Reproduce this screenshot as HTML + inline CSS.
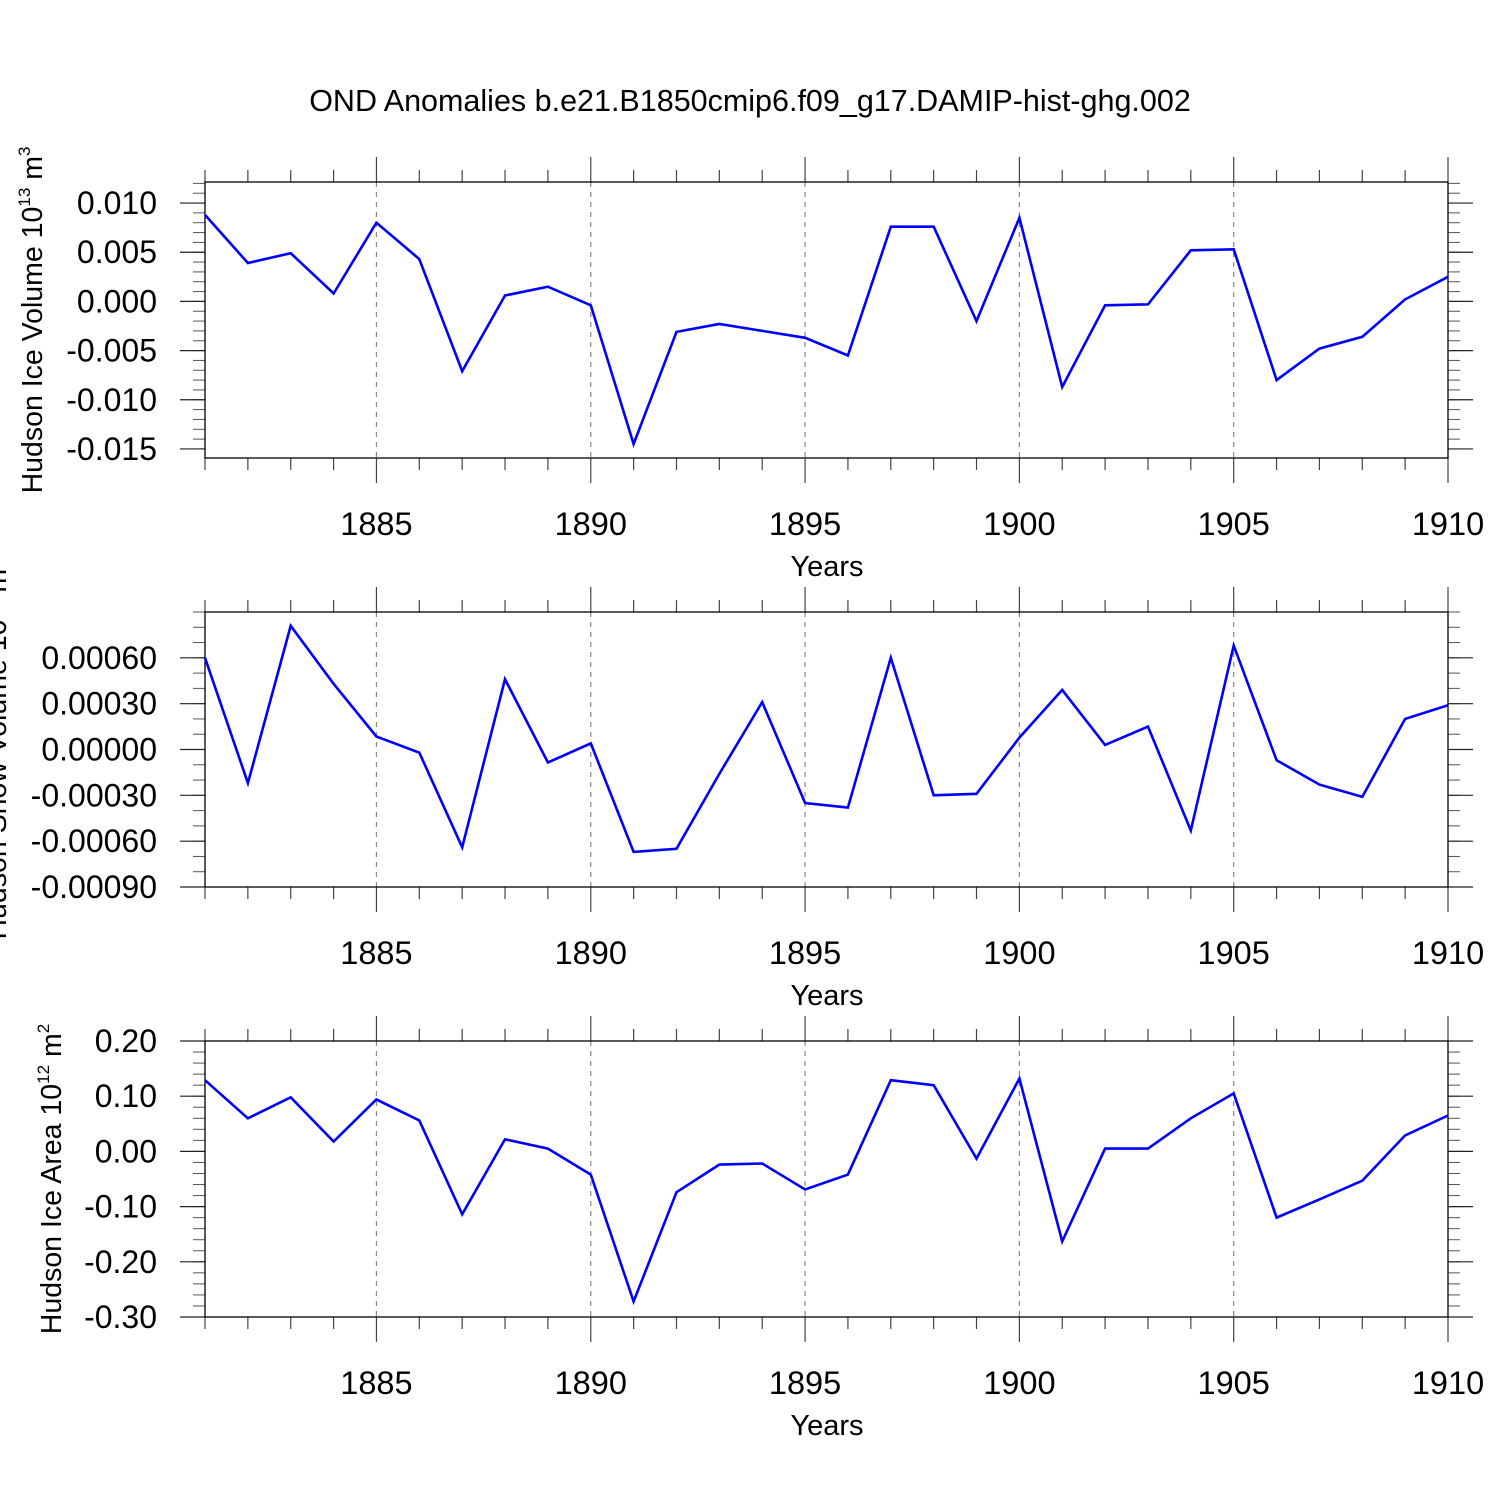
<!DOCTYPE html>
<html><head><meta charset="utf-8"><style>
html,body{margin:0;padding:0;background:#fff;}
svg text{font-family:"Liberation Sans",Arial,sans-serif;fill:#000;}
</style></head><body>
<svg id="chart" width="1500" height="1500" viewBox="0 0 1500 1500" xmlns="http://www.w3.org/2000/svg">
<text x="750" y="111" font-size="30.5" text-anchor="middle">OND Anomalies b.e21.B1850cmip6.f09_g17.DAMIP-hist-ghg.002</text>
</svg>
<script>
const years = [1881,1882,1883,1884,1885,1886,1887,1888,1889,1890,1891,1892,1893,1894,1895,1896,1897,1898,1899,1900,1901,1902,1903,1904,1905,1906,1907,1908,1909,1910];
const iceVolume = [0.0088,0.0039,0.0049,0.0008,0.0080,0.0043,-0.0071,0.0006,0.0015,-0.0004,-0.0145,-0.0031,-0.0023,-0.0030,-0.0037,-0.0055,0.0076,0.0076,-0.0020,0.0085,-0.0087,-0.0004,-0.0003,0.0052,0.0053,-0.0080,-0.0048,-0.0036,0.0002,0.0025];
const snowVolume = [0.00060,-0.00022,0.00081,0.00043,0.000085,-0.00002,-0.00064,0.00046,-0.000085,0.00004,-0.00067,-0.00065,-0.00016,0.00031,-0.00035,-0.00038,0.00060,-0.00030,-0.00029,0.000078,0.00039,0.00003,0.00015,-0.00053,0.00068,-0.00007,-0.00023,-0.00031,0.00020,0.00029];
const iceArea = [0.129,0.060,0.098,0.018,0.094,0.056,-0.114,0.022,0.005,-0.042,-0.272,-0.074,-0.024,-0.022,-0.069,-0.042,0.129,0.120,-0.013,0.132,-0.163,0.005,0.005,0.060,0.105,-0.120,-0.087,-0.053,0.029,0.065];
const xTickLabels = ["1885","1890","1895","1900","1905","1910"];
const yTicks1 = ["0.010","0.005","0.000","-0.005","-0.010","-0.015"];
const yTicks2 = ["0.00060","0.00030","0.00000","-0.00030","-0.00060","-0.00090"];
const yTicks3 = ["0.20","0.10","0.00","-0.10","-0.20","-0.30"];

const NS = "http://www.w3.org/2000/svg";
const svg = document.getElementById('chart');
function mk(tag, attrs, parent){const e=document.createElementNS(NS,tag);for(const k in attrs)e.setAttribute(k,attrs[k]);(parent||svg).appendChild(e);return e;}
const X0=205, X1=1448, xmin=1881, xmax=1910;
const xs = v => X0 + (v-xmin)/(xmax-xmin)*(X1-X0);

const panels = [
 {name:'ice-volume', top:182, bot:458, ymin:-0.01592, ymax:0.01214, ticks:yTicks1, minor:0.001, data:iceVolume, label:'Hudson Ice Volume 10', sup:'13', unit:' m', sup2:'3', lx:42},
 {name:'snow-volume', top:612, bot:887, ymin:-0.0009, ymax:0.0009, ticks:yTicks2, minor:0.0001, data:snowVolume, label:'Hudson Snow Volume 10', sup:'13', unit:' m', sup2:'3', lx:6},
 {name:'ice-area', top:1041, bot:1317, ymin:-0.30, ymax:0.20, ticks:yTicks3, minor:0.02, data:iceArea, label:'Hudson Ice Area 10', sup:'12', unit:' m', sup2:'2', lx:61}
];

panels.forEach(p=>{
  const g = mk('g',{});
  
  
  const ys = v => p.bot - (v-p.ymin)/(p.ymax-p.ymin)*(p.bot-p.top);
  for(let yr=1885; yr<=1905; yr+=5){
    const l=mk('line',{x1:xs(yr),x2:xs(yr),y1:p.top,y2:p.bot,stroke:'#888','stroke-width':1.2,'stroke-dasharray':'5,5'},g);
    
    
  }
  for(let yr=xmin; yr<=xmax; yr++){
    const major = yr%5===0; const len = major?25:12;
    const x=xs(yr);
    mk('line',{x1:x,x2:x,y1:p.top-len,y2:p.top,stroke:'#444','stroke-width':1.2},g);
    mk('line',{x1:x,x2:x,y1:p.bot,y2:p.bot+len,stroke:'#444','stroke-width':1.2},g);
  }
  xTickLabels.forEach(t=>{
    const tx=mk('text',{x:xs(+t),y:p.bot+77,'font-size':32.5,'text-anchor':'middle'},g);
    tx.textContent=t;
    
    
  });
  const xt=mk('text',{x:827,y:p.bot+118,'font-size':29,'text-anchor':'middle'},g);
  xt.textContent='Years';
  
  
  const start = Math.ceil(p.ymin/p.minor - 1e-6);
  for(let i=start; i*p.minor<=p.ymax+1e-9; i++){
    const y=ys(i*p.minor);
    mk('line',{x1:X0-12,x2:X0,y1:y,y2:y,stroke:'#555','stroke-width':1},g);
    mk('line',{x1:X1,x2:X1+12,y1:y,y2:y,stroke:'#555','stroke-width':1},g);
  }
  p.ticks.forEach(t=>{
    const y=ys(parseFloat(t));
    mk('line',{x1:X0-25,x2:X0,y1:y,y2:y,stroke:'#222','stroke-width':1.2},g);
    mk('line',{x1:X1,x2:X1+25,y1:y,y2:y,stroke:'#222','stroke-width':1.2},g);
    const tx=mk('text',{x:157,y:y+11,'font-size':32,'text-anchor':'end'},g);
    tx.textContent=t;
    
    
  });
  const fr=mk('rect',{x:X0,y:p.top,width:X1-X0,height:p.bot-p.top,fill:'none',stroke:'#000','stroke-width':1.3},g);
  
  
  const pts = p.data.map((v,i)=>xs(years[i]).toFixed(1)+','+ys(v).toFixed(1)).join(' ');
  const pl=mk('polyline',{points:pts,fill:'none',stroke:'#0000ff','stroke-width':2.6,'stroke-linejoin':'miter'},g);
  
  
  const cy=(p.top+p.bot)/2;
  const yl=mk('text',{x:0,y:0,'font-size':28.5,'text-anchor':'middle',transform:`translate(${p.lx},${cy}) rotate(-90)`},g);
  
  
  yl.appendChild(document.createTextNode(p.label));
  const s1=mk('tspan',{dy:-12,'font-size':17},yl); s1.textContent=p.sup;
  const s2=mk('tspan',{dy:12},yl); s2.textContent=p.unit;
  const s3=mk('tspan',{dy:-12,'font-size':17},yl); s3.textContent=p.sup2;
});
</script>
</body></html>
